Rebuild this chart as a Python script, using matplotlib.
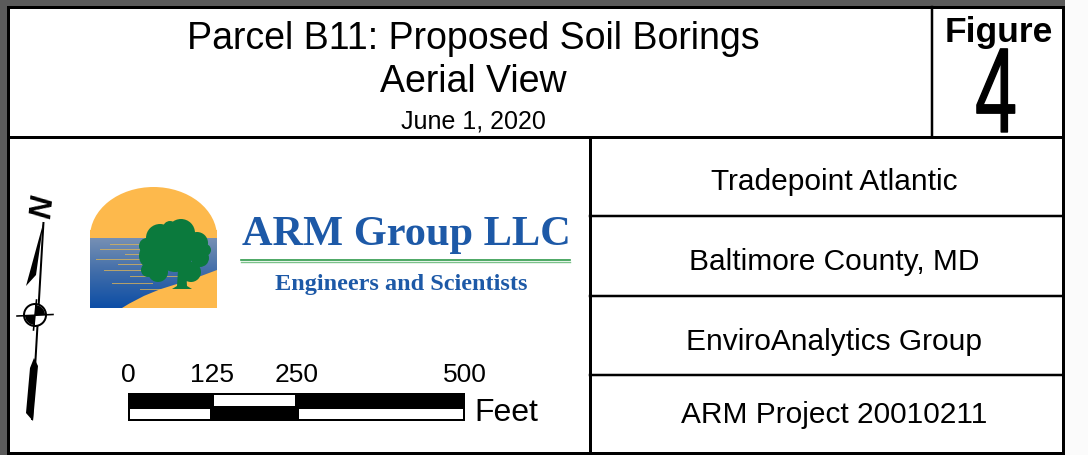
import numpy as np
import matplotlib
matplotlib.use("Agg")
import matplotlib.pyplot as plt
from matplotlib.patches import Rectangle, Polygon, Circle, Ellipse, PathPatch
from matplotlib.path import Path
from matplotlib.patheffects import AbstractPathEffect
import matplotlib.transforms as mtransforms

# Textos do carimbo (title block)
title_lines = ["Parcel B11: Proposed Soil Borings", "Aerial View", "June 1, 2020"]
figure_label = "Figure"
figure_number = "4"
info_rows = ["Tradepoint Atlantic", "Baltimore County, MD",
             "EnviroAnalytics Group", "ARM Project 20010211"]
company = "ARM Group LLC"
tagline = "Engineers and Scientists"

# Barra de escala
scale_ticks = [0, 125, 250, 500]
scale_unit = "Feet"

SANS = ["Liberation Sans", "DejaVu Sans"]
SERIF = ["Liberation Serif", "DejaVu Serif"]
BLUE = "#1D59A7"
ORANGE = "#FDB94C"

W, H = 1088, 455


#   Efeito para "estreitar" o texto na horizontal (fonte condensada)
class Squash(AbstractPathEffect):
    def __init__(self, cx, sx, stroke=0.0):
        super().__init__()
        self.cx = cx
        self.sx = sx
        self.stroke = stroke

    def draw_path(self, renderer, gc, tpath, affine, rgbFace=None):
        extra = mtransforms.Affine2D().translate(-self.cx, 0).scale(self.sx, 1).translate(self.cx, 0)
        gc0 = renderer.new_gc()
        gc0.copy_properties(gc)
        gc0.set_linewidth(self.stroke)
        gc0.set_foreground("black")
        renderer.draw_path(gc0, tpath, affine + extra, rgbFace)
        gc0.restore()


fig = plt.figure(figsize=(W / 100, H / 100), dpi=100)
fig.patch.set_facecolor("#fbfbfb")
ax = fig.add_axes([0, 0, 1, 1])
ax.set_xlim(0, W)
ax.set_ylim(H, 0)
ax.axis("off")

lw_px = 0.72  # 1 px em pontos

#   Moldura cinza e fundo branco
ax.add_patch(Rectangle((0, 0), 1065, 7, color="#5b5b5b", lw=0))
ax.add_patch(Rectangle((0, 0), 8, H, color="#5b5b5b", lw=0))
ax.add_patch(Rectangle((8, 7), 1055, 446, facecolor="white", edgecolor="black", lw=3 * lw_px))

#   Linhas internas
ax.plot([8, 1063], [137, 137], color="black", lw=3 * lw_px)
ax.plot([932, 932], [7, 137], color="black", lw=2.5 * lw_px)
ax.plot([590, 590], [137, 453], color="black", lw=3 * lw_px)
row_edges = [137, 216, 296, 375, 453]
for y in row_edges[1:-1]:
    ax.plot([590, 1063], [y, y], color="black", lw=2.5 * lw_px)

#   Titulo
for txt, yb, fs in zip(title_lines, [49, 92, 128], [27, 27, 18]):
    ax.text(473, yb, txt, ha="center", va="baseline", fontsize=fs, family=SANS)

ax.text(999, 42, figure_label, ha="center", va="baseline", fontsize=25.5,
        fontweight="bold", family=SANS)
cx_disp = ax.transData.transform((996, 133))[0]
ax.text(996, 132, figure_number, ha="center", va="baseline", fontsize=87,
        family=SANS, path_effects=[Squash(cx_disp, 0.62, stroke=1.0)])

#   Linhas de informacao
for txt, yb in zip(info_rows, [190, 270, 350, 423]):
    ax.text(834, yb, txt, ha="center", va="baseline", fontsize=21.5, family=SANS)

#   Logo: sol, agua, terra e arvore
ax.add_patch(Ellipse((153.5, 237), 127, 100, facecolor=ORANGE, lw=0))
ax.add_patch(Rectangle((90, 230), 127, 8, facecolor=ORANGE, lw=0))
grad = np.linspace(0, 1, 100).reshape(-1, 1)
water_cmap = matplotlib.colors.LinearSegmentedColormap.from_list(
    "agua", ["#7690b4", "#3f6ca9", "#0d4ea6"])
ax.imshow(grad, extent=(90, 217, 308, 238.5), cmap=water_cmap, aspect="auto",
          zorder=2, interpolation="bilinear")
ax.set_xlim(0, W)
ax.set_ylim(H, 0)

streaks = [(110, 160, 244), (100, 150, 249), (125, 175, 254), (96, 140, 259),
           (118, 168, 264), (104, 150, 270), (130, 180, 276), (112, 152, 283),
           (140, 175, 289)]
for x0, x1, y in streaks:
    ax.plot([x0, x1], [y, y], color="#d9b35a", lw=0.7, alpha=0.8, zorder=3)

land = Path([(122, 308), (150, 290), (185, 282), (217, 270), (217, 308), (122, 308)],
            [Path.MOVETO, Path.CURVE3, Path.CURVE3, Path.LINETO, Path.LINETO, Path.CLOSEPOLY])
ax.add_patch(PathPatch(land, facecolor=ORANGE, lw=0, zorder=3))

tree_green = "#0b7a3d"
blobs = [(160, 238, 14), (181, 233, 14), (197, 243, 11), (152, 256, 13),
         (175, 254, 18), (200, 258, 9), (158, 272, 10), (191, 272, 10),
         (147, 246, 8), (170, 228, 7), (148, 270, 7), (205, 250, 6)]
for cx, cy, r in blobs:
    ax.add_patch(Circle((cx, cy), r, facecolor=tree_green, lw=0, zorder=4))
ax.add_patch(Polygon([(178, 270), (186, 270), (187, 286), (192, 289), (172, 289), (177, 286)],
                     closed=True, facecolor=tree_green, lw=0, zorder=4))

ax.text(406, 245, company, ha="center", va="baseline", fontsize=30.5,
        fontweight="bold", family=SERIF, color=BLUE)
ax.plot([241, 570], [259.5, 259.5], color="#2f9a4a", lw=1.2)
ax.plot([241, 570], [262, 262], color="#7cc28b", lw=1.0)
ax.text(401, 290, tagline, ha="center", va="baseline", fontsize=17.5,
        fontweight="bold", family=SERIF, color=BLUE)

#   Seta norte
ax.plot([43.5, 32], [222, 420], color="black", lw=2 * lw_px, solid_capstyle="butt")
ax.add_patch(Polygon([(43.5, 222), (26, 286), (36, 275)], closed=True, color="black", lw=0))
ax.add_patch(Polygon([(34, 358), (38, 366), (33, 421), (26, 413), (30, 368)],
                     closed=True, color="black", lw=0))
ax.add_patch(Circle((35, 315), 11, facecolor="white", edgecolor="black", lw=2 * lw_px, zorder=5))
ax.add_patch(PathPatch(Path.wedge(180, 270).transformed(
    mtransforms.Affine2D().scale(10, -10).translate(35, 315)), color="black", lw=0, zorder=6))
ax.add_patch(PathPatch(Path.wedge(0, 90).transformed(
    mtransforms.Affine2D().scale(10, -10).translate(35, 315)), color="black", lw=0, zorder=6))
ax.plot([17, 53], [316, 314.5], color="black", lw=1.6 * lw_px, zorder=7)
ax.plot([36.5, 33.5], [300, 330], color="black", lw=1.6 * lw_px, zorder=7)
ax.text(44, 207, "N", ha="center", va="center", fontsize=22, fontweight="bold",
        style="italic", family=SANS, rotation=84)

#   Barra de escala em pes
x0_px, x1_px, ytop, ybot = 128, 465, 393, 421
sax = fig.add_axes([x0_px / W, 1 - ybot / H, (x1_px - x0_px) / W, (ybot - ytop) / H])
sax.set_xlim(scale_ticks[0], scale_ticks[-1])
sax.set_ylim(0, 2)
sax.axis("off")
sax.add_patch(Rectangle((scale_ticks[0], 0), scale_ticks[-1] - scale_ticks[0], 2,
                        color="black", lw=0))
ftpx = (scale_ticks[-1] - scale_ticks[0]) / (x1_px - x0_px)
upx = 2 / (ybot - ytop)
for i, (a, b) in enumerate(zip(scale_ticks[:-1], scale_ticks[1:])):
    # linha de baixo: branco nos pares, linha de cima: branco nos impares
    if i % 2 == 0:
        sax.add_patch(Rectangle((a + 2 * ftpx, 2 * upx), b - a - 4 * ftpx, 1 - 3.5 * upx,
                                color="white", lw=0))
    else:
        sax.add_patch(Rectangle((a + 2 * ftpx, 1 + 1.5 * upx), b - a - 4 * ftpx, 1 - 3.5 * upx,
                                color="white", lw=0))
for t in scale_ticks:
    sax.text(t, 2 + 11 * upx, str(t), ha="center", va="baseline", fontsize=19,
             family=SANS, clip_on=False)
sax.text(scale_ticks[-1] + 9 * ftpx, 0, scale_unit, ha="left", va="baseline",
         fontsize=23, family=SANS, clip_on=False)

fig.savefig("out.png", dpi=100)
